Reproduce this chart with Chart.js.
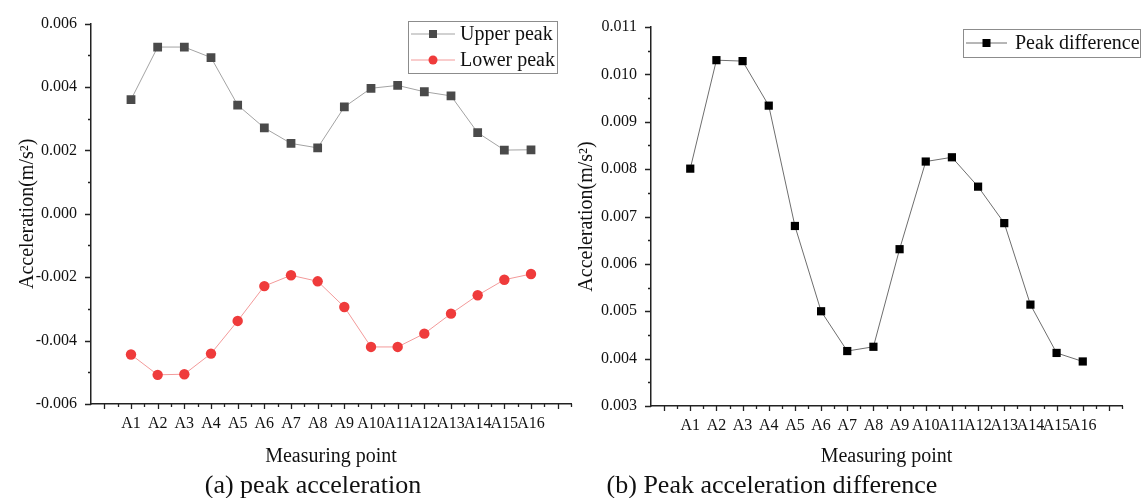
<!DOCTYPE html>
<html lang="en">
<head>
    <meta charset="UTF-8">
    <meta name="viewport" content="width=device-width, initial-scale=1.0">
    <title>Peak acceleration at measuring points</title>
    <script src="https://cdn.jsdelivr.net/npm/chart.js"></script>
    <style>
        body { margin: 0; background: #fff; }
        #wrap { position: relative; width: 1146px; height: 498px; overflow: hidden;
                font-family: 'Liberation Serif', 'Times New Roman', serif; }
        canvas { position: absolute; left: 0; top: 0; }
        .caption { position: absolute; top: 470px; font-size: 26px; line-height: 30px; color: #111;
                   white-space: nowrap; transform: translateX(-50%); }
    </style>
</head>
<body>
<div id="wrap">
    <canvas id="chartA" width="1146" height="498"></canvas>
    <canvas id="chartB" width="1146" height="498"></canvas>
    <div class="caption" style="left:313px">(a) peak acceleration</div>
    <div class="caption" style="left:772px">(b) Peak acceleration difference</div>
</div>

<script>
    // measuring points
    const categories = ['A1', 'A2', 'A3', 'A4', 'A5', 'A6', 'A7', 'A8',
                        'A9', 'A10', 'A11', 'A12', 'A13', 'A14', 'A15', 'A16'];

    // (a) peak acceleration, m/s^2
    const upperPeak = [0.00360, 0.00526, 0.00526, 0.00493, 0.00343, 0.00271, 0.00222, 0.00208,
                       0.00337, 0.00396, 0.00405, 0.00385, 0.00372, 0.00256, 0.00201, 0.00202];
    const lowerPeak = [-0.00444, -0.00508, -0.00506, -0.00441, -0.00338, -0.00228, -0.00194, -0.00213,
                       -0.00294, -0.00420, -0.00420, -0.00378, -0.00315, -0.00257, -0.00208, -0.00190];

    // (b) peak acceleration difference, m/s^2
    const peakDiff = [0.00801, 0.01030, 0.01028, 0.00934, 0.00680, 0.00500, 0.00416, 0.00425,
                      0.00631, 0.00816, 0.00825, 0.00763, 0.00686, 0.00514, 0.00412, 0.00394];

    // y axis ranges
    const yRangeA = [-0.006, 0.006];
    const yRangeB = [0.003, 0.011];

    const FONT = "'Liberation Serif', 'Times New Roman', serif";
    const TXT = '#111';

    // turn a value array into {x, y} points, A1 sits at x = 1
    function toPoints(values) {
        return values.map((v, i) => ({ x: i + 1, y: v }));
    }

    function fmt(v) {
        return (Math.round(v * 1000) / 1000).toFixed(3);
    }

    // Origin-style legend: line with a marker through it, inside a thin box
    const lineLegend = {
        id: 'lineLegend',
        afterDraw(chart, args, o) {
            const ctx = chart.ctx;
            ctx.save();
            ctx.strokeStyle = '#8c8c8c';
            ctx.lineWidth = 1;
            ctx.strokeRect(o.x + 0.5, o.y + 0.5, o.w, o.h);
            chart.data.datasets.forEach((ds, i) => {
                const cy = o.y + o.firstRow + i * o.rowGap;
                const x0 = o.x + 3, x1 = x0 + o.lineLen, mid = (x0 + x1) / 2;
                ctx.strokeStyle = ds.borderColor;
                ctx.lineWidth = 1;
                ctx.beginPath();
                ctx.moveTo(x0, cy);
                ctx.lineTo(x1, cy);
                ctx.stroke();
                ctx.fillStyle = ds.pointBackgroundColor;
                if (ds.pointStyle === 'circle') {
                    ctx.beginPath();
                    ctx.arc(mid, cy, 4.5, 0, Math.PI * 2);
                    ctx.fill();
                } else {
                    ctx.fillRect(mid - 4, cy - 4, 8, 8);
                }
                ctx.fillStyle = TXT;
                ctx.font = '20px ' + FONT;
                ctx.textBaseline = 'middle';
                ctx.textAlign = 'left';
                ctx.fillText(ds.label, x1 + o.textGap, cy + 1);
            });
            ctx.restore();
        }
    };

    // outward tick marks, long on labelled values, short in between
    const tickMarks = {
        id: 'tickMarks',
        afterDraw(chart) {
            const ctx = chart.ctx;
            const area = chart.chartArea;
            const xs = chart.scales.x, ys = chart.scales.y;
            ctx.save();
            ctx.strokeStyle = '#222';
            ctx.lineWidth = 1.3;
            ctx.beginPath();
            ys.ticks.forEach(t => {
                const py = Math.round(ys.getPixelForValue(t.value)) + 0.5;
                const len = t.label !== '' ? 6 : 3;
                ctx.moveTo(area.left - len, py);
                ctx.lineTo(area.left, py);
            });
            xs.ticks.forEach(t => {
                const px = Math.round(xs.getPixelForValue(t.value)) + 0.5;
                if (px < area.left + 2) return;
                const major = Math.abs(t.value - Math.round(t.value)) < 1e-6;
                const len = major ? 5 : 3;
                ctx.moveTo(px, area.bottom);
                ctx.lineTo(px, area.bottom + len);
            });
            ctx.stroke();
            ctx.restore();
        }
    };

    function makeOptions(p) {
        return {
            responsive: false,
            animation: false,
            devicePixelRatio: 1,
            layout: { padding: { left: p.padLeft, right: p.padRight, top: p.padTop, bottom: 0 } },
            plugins: {
                legend: { display: false },
                tooltip: { enabled: false },
                lineLegend: p.legend
            },
            scales: {
                x: {
                    type: 'linear',
                    position: 'bottom',
                    min: -0.5,
                    max: 17.5,
                    grid: { drawOnChartArea: false, drawTicks: false },
                    border: { color: '#222', width: 1.5 },
                    ticks: {
                        stepSize: 0.5,
                        autoSkip: false,
                        maxRotation: 0,
                        padding: 10,
                        color: TXT,
                        font: { family: FONT, size: 16 },
                        callback: v => {
                            const k = Math.round(v);
                            return Math.abs(v - k) < 1e-6 && k >= 1 && k <= categories.length ? categories[k - 1] : '';
                        }
                    },
                    title: {
                        display: true,
                        text: 'Measuring point',
                        color: TXT,
                        font: { family: FONT, size: 20 },
                        padding: { top: 0, bottom: 29 }
                    },
                    afterFit: s => { s.height = p.xHeight; }
                },
                y: {
                    min: p.yRange[0],
                    max: p.yRange[1],
                    grid: { drawOnChartArea: false, drawTicks: false },
                    border: { color: '#222', width: 1.5 },
                    ticks: {
                        stepSize: p.yStep,
                        autoSkip: false,
                        padding: 14,
                        color: TXT,
                        font: { family: FONT, size: 16 },
                        callback: v => p.isMajor(v) ? fmt(v) : ''
                    },
                    title: {
                        display: true,
                        text: 'Acceleration(m/s²)',
                        color: TXT,
                        font: { family: FONT, size: 20 },
                        padding: { top: p.yTitlePad, bottom: 0 }
                    },
                    afterFit: s => { s.width = 91; }
                }
            }
        };
    }

    // (a) upper and lower peak
    new Chart(document.getElementById('chartA').getContext('2d'), {
        type: 'line',
        data: {
            datasets: [{
                label: 'Upper peak',
                data: toPoints(upperPeak),
                borderColor: '#a3a3a3',
                borderWidth: 1,
                pointStyle: 'rect',
                pointRadius: 6.2,
                pointBackgroundColor: '#4a4a4a',
                pointBorderColor: '#4a4a4a',
                pointBorderWidth: 0
            }, {
                label: 'Lower peak',
                data: toPoints(lowerPeak),
                borderColor: '#f39a9a',
                borderWidth: 1,
                pointStyle: 'circle',
                pointRadius: 5.2,
                pointBackgroundColor: '#ef3b3b',
                pointBorderColor: '#ef3b3b',
                pointBorderWidth: 0
            }]
        },
        options: makeOptions({
            padLeft: 0, padRight: 1146 - 571, padTop: 19, xHeight: 498 - 404,
            yRange: yRangeA, yStep: 0.001, yTitlePad: 16,
            isMajor: v => Math.round(v * 1000) % 2 === 0,
            legend: { x: 408, y: 21, w: 149, h: 52, firstRow: 13, rowGap: 26, lineLen: 44, textGap: 5 }
        }),
        plugins: [lineLegend, tickMarks]
    });

    // (b) peak difference
    new Chart(document.getElementById('chartB').getContext('2d'), {
        type: 'line',
        data: {
            datasets: [{
                label: 'Peak difference',
                data: toPoints(peakDiff),
                borderColor: '#6e6e6e',
                borderWidth: 1,
                pointStyle: 'rect',
                pointRadius: 5.8,
                pointBackgroundColor: '#000',
                pointBorderColor: '#000',
                pointBorderWidth: 0
            }]
        },
        options: makeOptions({
            padLeft: 560, padRight: 1146 - 1122, padTop: 27, xHeight: 498 - 406,
            yRange: yRangeB, yStep: 0.0005, yTitlePad: 15,
            isMajor: v => Math.abs(v * 1000 - Math.round(v * 1000)) < 1e-6,
            legend: { x: 963, y: 29, w: 177, h: 28, firstRow: 14, rowGap: 26, lineLen: 41, textGap: 8 }
        }),
        plugins: [lineLegend, tickMarks]
    });
</script>
</body>
</html>
